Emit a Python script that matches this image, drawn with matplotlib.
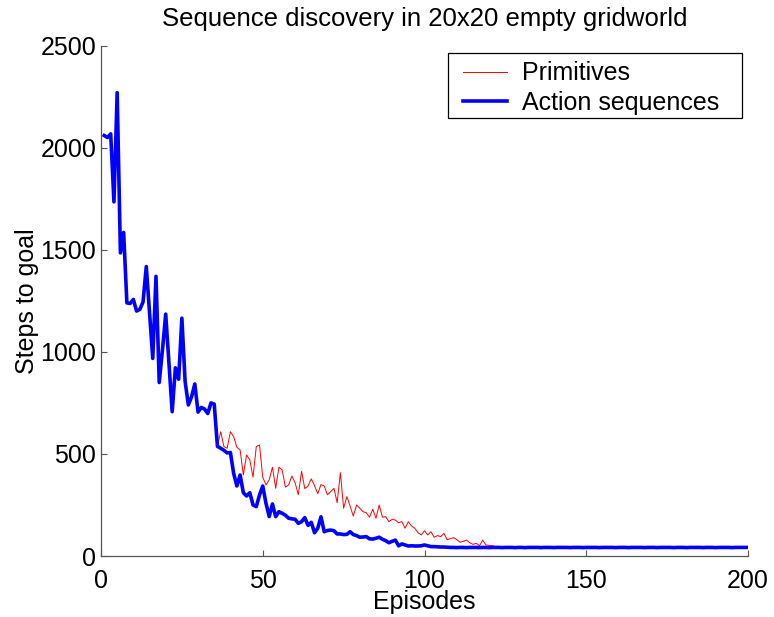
import matplotlib
matplotlib.use("Agg")
import matplotlib.pyplot as plt
from matplotlib.patches import Rectangle
import numpy as np

plt.rcParams['font.family'] = ['Liberation Sans', 'DejaVu Sans']

title = "Sequence discovery in 20x20 empty gridworld"
xlabel = "Episodes"
ylabel = "Steps to goal"
labels = ["Primitives", "Action sequences"]
xticks = [0, 50, 100, 150, 200]
yticks = [0, 500, 1000, 1500, 2000, 2500]

# Action sequences (episodes 1..200)
seq_head = [2060, 2050, 2068, 1735, 2270, 1485, 1585, 1240, 1237, 1257,
            1200, 1208, 1245, 1418, 1190, 968, 1370, 850, 1010, 1185,
            950, 707, 922, 866, 1165, 855, 740, 780, 843, 705,
            728, 720, 698, 750, 744, 537, 528, 518, 505, 507,
            405, 343, 397, 310, 294, 310, 250, 242, 299, 343,
            258, 193, 255, 193, 217, 209, 200, 185, 182, 180,
            160, 168, 188, 150, 165, 114, 136, 192, 119, 125,
            127, 124, 108, 108, 105, 106, 119, 105, 100, 92,
            93, 95, 84, 83, 87, 92, 82, 75, 65, 72,
            78, 50, 59, 54, 49, 50, 49, 49, 50, 54,
            50, 46, 46, 45, 44, 44, 43]
seq_tail = [42, 42, 41, 42, 42, 41, 42, 42, 42, 41,
            42, 42, 41, 42, 42, 42, 41, 42, 42, 42,
            41, 42, 42, 41, 42, 42, 42, 42, 41, 42,
            42, 42, 41, 42, 42, 42, 42, 41, 42, 42,
            42, 41, 42, 42, 42, 42, 41, 42, 42, 42,
            42, 41, 42, 42, 42, 41, 42, 42, 42, 42,
            41, 42, 42, 42, 41, 42, 42, 42, 42, 41,
            42, 42, 42, 41, 42, 42, 42, 42, 41, 42,
            42, 42, 41, 42, 42, 42, 42, 41, 42, 42,
            42, 42, 42]
action_sequences = seq_head + seq_tail

# Primitives (episodes 36..124 read; elsewhere hidden under / equal to the sequences curve)
prim_mid = [540, 609, 536, 528, 609, 585, 533, 520, 397, 495,
            471, 386, 536, 544, 386, 348, 373, 435, 332, 435,
            422, 337, 348, 392, 359, 300, 415, 330, 343, 378,
            345, 305, 350, 343, 300, 315, 332, 261, 408, 234,
            291, 245, 195, 250, 234, 217, 212, 190, 229, 185,
            250, 190, 193, 168, 180, 176, 163, 168, 136, 168,
            147, 136, 114, 103, 124, 103, 119, 92, 100, 95,
            111, 80, 85, 90, 80, 67, 72, 78, 65, 57,
            62, 50, 78, 54, 52, 50, 46, 44, 43]
primitives = action_sequences[:35] + prim_mid + action_sequences[124:]

episodes = np.arange(1, len(action_sequences) + 1)

FS = 18
W, H = 774, 617
fig = plt.figure(figsize=(W / 100, H / 100), dpi=100)
ax = fig.add_axes([101 / W, 1 - 556 / H, 647 / W, (556 - 45.7) / H])

ax.plot(episodes, primitives, color='red', lw=0.7, label=labels[0])
ax.plot(episodes, action_sequences, color='blue', lw=2.6, label=labels[1])

ax.set_xlim(0, 200)
ax.set_ylim(0, 2500)
ax.set_xticks(xticks)
ax.set_yticks(yticks)
ax.tick_params(direction='in', length=4.5, width=0.8, labelsize=FS,
               color='#555555')
ax.tick_params(axis='x', pad=9)
ax.tick_params(axis='y', pad=3.5)
for s in ['top', 'right']:
    ax.spines[s].set_visible(False)
for s in ['left', 'bottom']:
    ax.spines[s].set_color('#555555')
    ax.spines[s].set_linewidth(0.9)

ax.set_title(title, fontsize=18.5, pad=14.5)
ax.set_xlabel(xlabel, fontsize=FS, labelpad=-1.5)
ax.set_ylabel(ylabel, fontsize=FS, labelpad=1)

leg = ax.legend(loc='upper left', bbox_to_anchor=(462.7 / W, 1 - 61.5 / H),
                bbox_transform=fig.transFigure, fontsize=FS, frameon=False,
                borderpad=0, handlelength=1.76, handletextpad=0.6,
                labelspacing=0.22, borderaxespad=0)
fig.patches.append(Rectangle((448 / W, 1 - 118 / H), 294 / W, 65 / H,
                             transform=fig.transFigure, fill=False,
                             edgecolor='black', linewidth=0.9))

fig.savefig("out.png", dpi=100)
